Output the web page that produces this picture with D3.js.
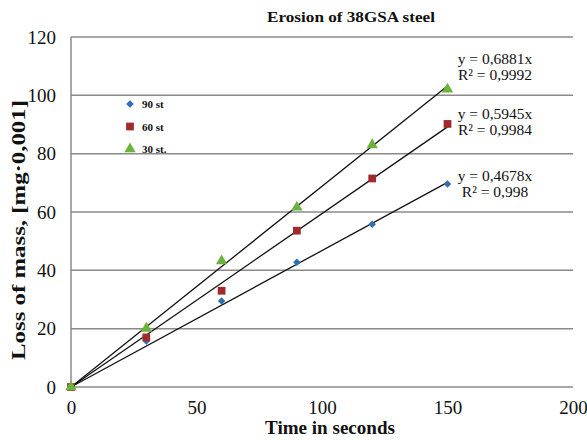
<!DOCTYPE html>
<html><head><meta charset="utf-8">
<script src="https://cdn.jsdelivr.net/npm/d3@7"></script>
<style>body{margin:0;background:#fff}svg{display:block}</style>
</head><body>
<script>
const times = [0, 30, 60, 90, 120, 150];
const seriesNames = ["90 st", "60 st", "30 st."];
const s90 = [0, 15.8, 29.5, 42.8, 55.8, 69.6];
const s60 = [0, 17.0, 33.0, 53.6, 71.5, 90.2];
const s30 = [0, 20.1, 43.2, 61.6, 83.0, 102.1];
const slopes = [0.4678, 0.5945, 0.6881];
const eqLabels = ["y = 0,4678x", "y = 0,5945x", "y = 0,6881x"];
const r2Labels = ["R² = 0,998", "R² = 0,9984", "R² = 0,9992"];
const xTicks = [0, 50, 100, 150, 200];
const yTicks = [0, 20, 40, 60, 80, 100, 120];

const W = 587, H = 440;
const svg = d3.select("body").append("svg").attr("width", W).attr("height", H);
const x = d3.scaleLinear().domain([0, 200]).range([71, 573]);
const y = d3.scaleLinear().domain([0, 120]).range([387, 37]);
const font = "'Liberation Serif','Times New Roman',serif";
const colors = ["#2f6db5", "#a02a2c", "#6cb33c"];
const shapes = [d3.symbolSquare, d3.symbolSquare, d3.symbolTriangle];
const rots = [45, 0, 0];
const sizes = [28, 60, 56];
const data = [s90, s60, s30];

// gridlines
svg.append("g").selectAll("line").data(yTicks).join("line")
  .attr("x1", x(0)).attr("x2", x(200))
  .attr("y1", d => y(d)).attr("y2", d => y(d))
  .attr("stroke", "#8a8a8a").attr("stroke-width", 1.5);
svg.append("line").attr("x1", x(0)).attr("x2", x(0)).attr("y1", y(0)).attr("y2", y(120))
  .attr("stroke", "#8a8a8a").attr("stroke-width", 1.5);

// axes
const yAxis = d3.axisLeft(y).tickValues(yTicks).tickSize(0).tickPadding(15);
const gy = svg.append("g").attr("transform", `translate(${x(0)},0)`).call(yAxis);
gy.select(".domain").remove();
gy.selectAll("text").attr("font-family", font).attr("font-size", 19).attr("fill", "#111");
const xAxis = d3.axisBottom(x).tickValues(xTicks).tickSize(0).tickPadding(14);
const gx = svg.append("g").attr("transform", `translate(0,${y(0)})`).call(xAxis);
gx.select(".domain").remove();
gx.selectAll("text").attr("font-family", font).attr("font-size", 19).attr("fill", "#111");

// trendlines
svg.append("g").selectAll("line").data(slopes).join("line")
  .attr("x1", x(0)).attr("y1", y(0))
  .attr("x2", x(150)).attr("y2", d => y(d * 150))
  .attr("stroke", "#111").attr("stroke-width", 1.3);

// markers
data.forEach((arr, i) => {
  svg.append("g").selectAll("path").data(arr).join("path")
    .attr("d", d3.symbol().type(shapes[i]).size(sizes[i]))
    .attr("transform", (d, j) => `translate(${x(times[j])},${y(d)}) rotate(${rots[i]})`)
    .attr("fill", colors[i]);
});

// equation labels
const eqBase = [[181, 197], [119, 135], [64, 80]];
slopes.forEach((s, i) => {
  const t = svg.append("text").attr("font-family", font).attr("font-size", 15.5)
    .attr("text-anchor", "middle").attr("fill", "#111");
  t.append("tspan").attr("x", 495).attr("y", eqBase[i][0]).text(eqLabels[i]);
  t.append("tspan").attr("x", 495).attr("y", eqBase[i][1]).text(r2Labels[i]);
});

// legend
const legY = [104, 126.5, 149];
seriesNames.forEach((n, i) => {
  svg.append("path").attr("d", d3.symbol().type(shapes[i]).size(sizes[i]))
    .attr("transform", `translate(130,${legY[i]}) rotate(${rots[i]})`).attr("fill", colors[i]);
  svg.append("text").attr("x", 142).attr("y", legY[i] + 4).text(n)
    .attr("font-family", font).attr("font-size", 11).attr("font-weight", "bold").attr("fill", "#111");
});

// titles, stretched horizontally to the reference widths
function stretched(tx, ty, rot, size, target, txt) {
  const t = svg.append("text").attr("text-anchor", "middle")
    .attr("font-family", font).attr("font-size", size).attr("font-weight", "bold")
    .attr("fill", "#111").text(txt);
  const len = t.node().getComputedTextLength();
  t.attr("transform", `translate(${tx},${ty}) rotate(${rot}) scale(${target / len},1)`);
}
stretched(351, 22, 0, 15.5, 168, "Erosion of 38GSA steel");
stretched(330, 434, 0, 19, 130, "Time in seconds");
stretched(25, 230, -90, 19.5, 260, "Loss of mass, [mg·0,001]");
</script>
</body></html>
